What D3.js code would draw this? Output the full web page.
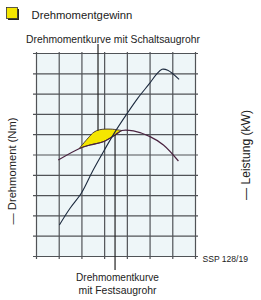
<!DOCTYPE html>
<html><head><meta charset="utf-8">
<script src="https://cdn.jsdelivr.net/npm/d3@7"></script>
<style>
html,body{margin:0;padding:0;background:#fff;}
svg{display:block;font-family:"Liberation Sans",Arial,sans-serif;}
</style></head>
<body><div id="chart"></div>
<script>
// Data (grid units: x = columns 0..7, y = rows 0..10)
const xTicks = [0,1,2,3,4,5,6,7];
const yTicks = [0,1,2,3,4,5,6,7,8,9,10];
const powerX = [1.03,1.5,2.0,2.5,3.0,3.5,4.0,4.5,5.0,5.3,5.55,5.8,6.3];
const powerY = [1.53,2.35,3.1,4.2,5.2,6.15,7.0,7.8,8.5,8.95,9.2,9.15,8.7];
const torqueX = [0.98,1.94,2.38,2.96,3.48,3.78,4.29,5.02,5.61,6.27];
const torqueY = [4.73,5.31,5.47,5.63,5.96,6.18,6.16,5.88,5.47,4.68];
const schaltX = [1.9,2.3,2.55,2.8,3.3,3.78];
const schaltY = [5.29,5.82,6.1,6.22,6.25,6.18];
const annotX = [2.73,3.48]; // leader lines: Schaltsaugrohr, Festsaugrohr
const labels = {
  legend:"Drehmomentgewinn",
  top:"Drehmomentkurve mit Schaltsaugrohr",
  bottom1:"Drehmomentkurve", bottom2:"mit Festsaugrohr",
  left:"— Drehmoment (Nm)", right:"— Leistung (kW)", src:"SSP 128/19"
};

const W=261,H=300;
const svg=d3.select("#chart").append("svg").attr("width",W).attr("height",H);
const x=d3.scaleLinear().domain([0,7]).range([36,195]);
const y=d3.scaleLinear().domain([0,10]).range([256,53]);
const gridColor="#505357";

svg.append("rect").attr("x",x(0)).attr("y",y(10)).attr("width",x(7)-x(0)).attr("height",y(0)-y(10)).attr("fill","#eef6f8");

const gy=svg.append("g").attr("transform",`translate(${x(0)-3},0)`)
  .call(d3.axisLeft(y).tickValues(yTicks).tickSize(-(x(7)-x(0)+6)).tickSizeOuter(0).tickFormat(""));
const gx=svg.append("g").attr("transform",`translate(0,${y(0)+3})`)
  .call(d3.axisBottom(x).tickValues(xTicks).tickSize(-(y(0)-y(10)+4)).tickSizeOuter(0).tickFormat(""));
[gx,gy].forEach(g=>{g.select(".domain").remove();g.selectAll("line").attr("stroke",gridColor).attr("stroke-width",1.2);});

const pts=(xs,ys)=>xs.map((v,i)=>[x(v),y(ys[i])]);
const line=d3.line().curve(d3.curveCatmullRom.alpha(0.5));

const upper=pts(schaltX,schaltY);
const tIdx=torqueX.map((v,i)=>i).filter(i=>torqueX[i]>=schaltX[0]&&torqueX[i]<=schaltX[schaltX.length-1]);
const lower=tIdx.map(i=>[x(torqueX[i]),y(torqueY[i])]).reverse();
svg.append("path").attr("d",line(upper)+line(lower).replace(/^M/,"L")+"Z")
  .attr("fill","#f4e600").attr("stroke","#3a2a30").attr("stroke-width",0.9);

svg.append("path").attr("d",line(pts(torqueX,torqueY))).attr("fill","none").attr("stroke","#4a2340").attr("stroke-width",1.2);
svg.append("path").attr("d",line(pts(powerX,powerY))).attr("fill","none").attr("stroke","#1c2a3e").attr("stroke-width",1.1);

const interp=(xs,ys,v)=>{for(let i=0;i<xs.length-1;i++){if(v>=xs[i]&&v<=xs[i+1]){const t=(v-xs[i])/(xs[i+1]-xs[i]);return ys[i]+t*(ys[i+1]-ys[i]);}}return ys[0];};
svg.append("line").attr("x1",x(annotX[0])).attr("x2",x(annotX[0])).attr("y1",44).attr("y2",y(interp(schaltX,schaltY,annotX[0])))
  .attr("stroke","#222").attr("stroke-width",1.2);
svg.append("line").attr("x1",x(annotX[1])).attr("x2",x(annotX[1])).attr("y1",y(interp(torqueX,torqueY,annotX[1]))).attr("y2",270)
  .attr("stroke","#222").attr("stroke-width",1.2);

svg.append("rect").attr("x",8).attr("y",9).attr("width",11).attr("height",11).attr("fill","#222");
svg.append("rect").attr("x",6.5).attr("y",7.5).attr("width",11).attr("height",11).attr("fill","#f4e600").attr("stroke","#333").attr("stroke-width",0.8);

const txt="#222";
function label(str, attrs, targetW){
  const t=svg.append("text").attr("fill",txt).attr("font-size",10).text(str);
  Object.entries(attrs).forEach(([k,v])=>t.attr(k,v));
  const w=t.node().getComputedTextLength();
  t.attr("font-size",(10*targetW/w).toFixed(2));
  return t;
}
label(labels.legend,{x:31.5,y:19},101);
label(labels.top,{x:113,y:43,"text-anchor":"middle"},174);
label(labels.bottom1,{x:117.5,y:281,"text-anchor":"middle"},83);
label(labels.bottom2,{x:117.5,y:294,"text-anchor":"middle"},78);
label(labels.src,{x:202.5,y:262},45.5);
label(labels.left,{transform:"translate(16,171) rotate(-90)","text-anchor":"middle"},107);
label(labels.right,{transform:"translate(250,155) rotate(-90)","text-anchor":"middle"},90);
</script></body></html>
